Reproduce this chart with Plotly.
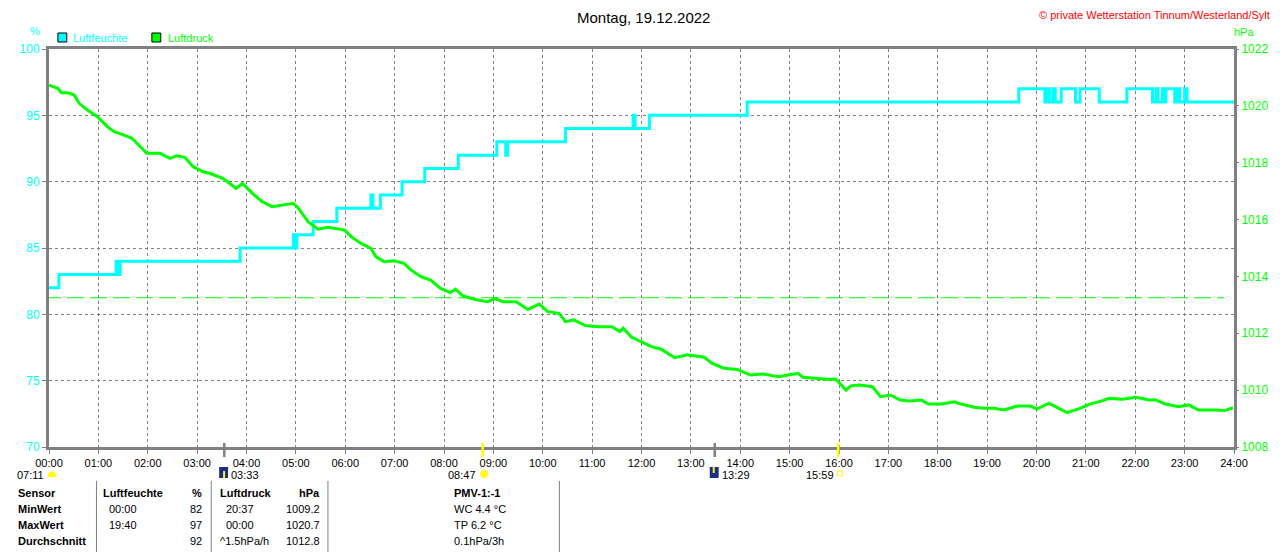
import plotly.graph_objects as go

# ---------------- data ----------------
hum_hours = [0.0, 0.2, 1.36, 1.38, 1.40, 1.42, 1.44, 3.87, 4.95, 4.98, 5.02, 5.35, 5.83,
             6.52, 6.56, 6.71, 7.15, 7.61, 8.29, 9.07, 9.25, 9.29, 10.46, 11.83, 11.87,
             12.16, 14.14, 19.64, 20.17, 20.22, 20.26, 20.33, 20.38, 20.50, 20.79, 20.88,
             21.27, 21.83, 22.35, 22.42, 22.46, 22.55, 22.58, 22.62, 22.80, 22.86, 22.90,
             23.00, 23.05, 24.0]
hum_values = [82, 83, 84, 83, 84, 83, 84, 85, 86, 85, 86, 87, 88,
              89, 88, 89, 90, 91, 92, 93, 92, 93, 94, 95, 94,
              95, 96, 97, 96, 97, 96, 97, 96, 97, 96, 97,
              96, 97, 96, 97, 96, 97, 96, 97, 96, 97, 96,
              97, 96, 96]

pres_hours = [0.0, 0.18, 0.25, 0.38, 0.51, 0.61, 0.78, 0.98, 1.18, 1.32, 1.52, 1.68, 1.85,
              1.98, 2.25, 2.45, 2.58, 2.75, 2.92, 3.12, 3.25, 3.52, 3.79, 3.92, 4.12, 4.32,
              4.52, 4.72, 4.95, 5.05, 5.25, 5.45, 5.65, 5.99, 6.12, 6.32, 6.52, 6.62, 6.79,
              6.99, 7.19, 7.33, 7.53, 7.73, 7.93, 8.13, 8.23, 8.39, 8.63, 8.89, 9.03, 9.19,
              9.46, 9.70, 9.93, 10.10, 10.33, 10.46, 10.63, 10.86, 11.13, 11.40, 11.56, 11.63,
              11.80, 12.00, 12.20, 12.40, 12.67, 12.93, 13.27, 13.43, 13.67, 13.94, 14.20,
              14.47, 14.77, 14.97, 15.17, 15.27, 15.61, 15.74, 15.94, 16.14, 16.24, 16.41,
              16.68, 16.84, 17.04, 17.24, 17.41, 17.67, 17.81, 18.07, 18.34, 18.47, 18.74,
              18.94, 19.14, 19.34, 19.61, 19.88, 20.01, 20.25, 20.48, 20.62, 20.88, 21.08,
              21.34, 21.47, 21.74, 22.01, 22.28, 22.41, 22.61, 22.88, 23.08, 23.28, 23.61,
              23.81, 23.98]
pres_values = [1020.73, 1020.62, 1020.46, 1020.46, 1020.38, 1020.09, 1019.85, 1019.62, 1019.27,
               1019.09, 1018.97, 1018.86, 1018.56, 1018.33, 1018.33, 1018.15, 1018.24, 1018.19,
               1017.86, 1017.68, 1017.63, 1017.45, 1017.10, 1017.27, 1016.92, 1016.63, 1016.45,
               1016.51, 1016.57, 1016.40, 1015.92, 1015.66, 1015.73, 1015.63, 1015.40, 1015.16,
               1014.99, 1014.69, 1014.52, 1014.55, 1014.46, 1014.23, 1013.99, 1013.87, 1013.58,
               1013.43, 1013.55, 1013.31, 1013.19, 1013.11, 1013.23, 1013.11, 1013.11, 1012.84,
               1013.03, 1012.76, 1012.70, 1012.41, 1012.47, 1012.27, 1012.23, 1012.23, 1012.06,
               1012.18, 1011.86, 1011.70, 1011.53, 1011.44, 1011.14, 1011.24, 1011.16, 1010.94,
               1010.77, 1010.73, 1010.53, 1010.57, 1010.47, 1010.53, 1010.59, 1010.45, 1010.39,
               1010.38, 1010.38, 1010.00, 1010.15, 1010.18, 1010.12, 1009.77, 1009.83, 1009.65,
               1009.62, 1009.65, 1009.51, 1009.51, 1009.59, 1009.51, 1009.40, 1009.36, 1009.36,
               1009.30, 1009.44, 1009.44, 1009.33, 1009.54, 1009.33, 1009.21, 1009.36, 1009.51,
               1009.63, 1009.71, 1009.68, 1009.75, 1009.65, 1009.66, 1009.51, 1009.42, 1009.48,
               1009.30, 1009.30, 1009.28, 1009.38]

std_pressure = 1013.25

x_tick_vals = list(range(0, 25))
x_tick_text = [f"{h:02d}:00" for h in range(0, 25)]

hum_ticks = [70, 75, 80, 85, 90, 95, 100]
pres_ticks = [1008, 1010, 1012, 1014, 1016, 1018, 1020, 1022]

# sun / moon events (hour, label)
moonrise = (3 + 33 / 60, "03:33")
sunrise = (8 + 47 / 60, "08:47")
moonset = (13 + 29 / 60, "13:29")
sunset = (15 + 59 / 60, "15:59")
dawn_label = "07:11"

table_rows = [
    ["Sensor", "Luftfeuchte", "%", "Luftdruck", "hPa", "PMV-1:-1"],
    ["MinWert", "00:00", "82", "20:37", "1009.2", "WC 4.4 °C"],
    ["MaxWert", "19:40", "97", "00:00", "1020.7", "TP 6.2 °C"],
    ["Durchschnitt", "", "92", "^1.5hPa/h", "1012.8", "0.1hPa/3h"],
]

# ---------------- layout helpers ----------------
# The page body has an 8px default margin, so the figure is shifted by 8px.
OFF = 8
W, H = 1280 - OFF, 552 - OFF
L, R, T, B = 41, 1239, 49, 447          # plot area in window pixels
GRAY = "#808080"
CYAN = "#00FFFF"
GREEN = "#00FF00"
FONT = "Liberation Sans, Arial, sans-serif"


def px(x):
    return (x - L) / (R - L)


def py(y):
    return (B - y) / (B - T)


fig = go.Figure()

fig.add_trace(go.Scatter(x=hum_hours, y=hum_values, mode="lines", line_shape="hv",
                         line=dict(color=CYAN, width=3), name="Luftfeuchte",
                         hoverinfo="skip"))
fig.add_trace(go.Scatter(x=pres_hours, y=pres_values, mode="lines", yaxis="y2",
                         line=dict(color=GREEN, width=3), name="Luftdruck",
                         hoverinfo="skip"))
fig.add_trace(go.Scatter(x=[-0.1, 23.8], y=[std_pressure, std_pressure], mode="lines",
                         yaxis="y2", line=dict(color=GREEN, width=1, dash="17px,6px"),
                         showlegend=False, hoverinfo="skip", cliponaxis=False))

shapes = []
annotations = []

# event tick markers under the x axis
for (hr, _), col in [(moonrise, GRAY), (sunrise, "#FFFF00"), (moonset, GRAY), (sunset, "#FFFF00")]:
    shapes.append(dict(type="line", xref="x", yref="paper", x0=hr, x1=hr,
                       y0=py(443), y1=py(457), line=dict(color=col, width=2.5)))


def text(x, y, s, color="black", size=11, xanchor="left", bold=False):
    annotations.append(dict(x=px(x), y=py(y), xref="paper", yref="paper", text=(f"<b>{s}</b>" if bold else s),
                            showarrow=False, xanchor=xanchor, yanchor="middle",
                            font=dict(family=FONT, size=size, color=color)))


def rect(x0, y0, x1, y1, fill, line_color=None, lw=1):
    shapes.append(dict(type="rect", xref="paper", yref="paper", x0=px(x0), x1=px(x1),
                       y0=py(y1), y1=py(y0), fillcolor=fill,
                       line=dict(color=line_color or fill, width=lw if line_color else 0)))


# title and copyright
text(642, 17, "Montag, 19.12.2022", size=15, xanchor="center")
text(1277, 15, "© private Wetterstation Tinnum/Westerland/Sylt", color="#FF0000", size=11, xanchor="right")

# axis unit labels
text(27, 31, "%", color=CYAN, size=11, xanchor="center")
text(1249, 32, "hPa", color=GREEN, size=11, xanchor="center")

# legend
rect(50, 33, 59, 42, CYAN, "black", 1)
text(63, 38, "Luftfeuchte", color=CYAN, size=11)
rect(145, 33, 154, 42, GREEN, "black", 1)
text(159, 38, "Luftdruck", color=GREEN, size=11)

# event labels and icons under x axis
EY = 475
text(38, EY, dawn_label, xanchor="right")
shapes.append(dict(type="path", xref="paper", yref="paper",
                   path=f"M {px(40)},{py(477)} L {px(40)},{py(474)} Q {px(44)},{py(468)} {px(48)},{py(474)} L {px(48)},{py(477)} Z",
                   fillcolor="#FFFF00", line=dict(color="#FFFF00", width=0)))

rect(213, 467, 222, 478, "#1C2A8C")
rect(217, 471, 219, 478, "#FFFF00")
text(223, EY, moonrise[1])

text(475, EY, sunrise[1], xanchor="right")
shapes.append(dict(type="circle", xref="paper", yref="paper", x0=px(477), x1=px(485),
                   y0=py(478), y1=py(470), fillcolor="#FFFF00", line=dict(color="#FFEE88", width=1)))

rect(709, 467, 718, 478, "#1C2A8C")
rect(712, 467, 714, 473, "#FFFF00")
text(719, EY, moonset[1])

text(837, EY, sunset[1], xanchor="right")
rect(838, 471, 843, 476, "rgba(0,0,0,0)", "#FFFF00", 1)

# table
for xv in [89, 205, 323, 557, 1278]:
    shapes.append(dict(type="line", xref="paper", yref="paper", x0=px(xv), x1=px(xv),
                       y0=py(481), y1=py(552), line=dict(color=GRAY, width=1)))

row_y = [493, 509, 525, 541]
for i, row in enumerate(table_rows):
    y = row_y[i]
    head = i == 0
    text(8, y, row[0], bold=True)
    if head:
        text(94, y, row[1], bold=True)
        text(198, y, row[2], bold=True, xanchor="right")
        text(212, y, row[3], bold=True)
        text(317, y, row[4], bold=True, xanchor="right")
        text(448, y, row[5], bold=True)
    else:
        text(100, y, row[1])
        text(198, y, row[2], xanchor="right")
        text(212 if row[3].startswith("^") else 218, y, row[3])
        text(317, y, row[4], xanchor="right")
        text(448, y, row[5])

fig.update_layout(
    width=W, height=H,
    margin=dict(l=L - OFF, r=1280 - R, t=T - OFF, b=552 - B, pad=0),
    paper_bgcolor="white", plot_bgcolor="white",
    showlegend=False,
    font=dict(family=FONT, size=11, color="black"),
    xaxis=dict(range=[0, 24], tickvals=x_tick_vals, ticktext=x_tick_text,
               showgrid=True, gridcolor=GRAY, griddash="3px,3px", gridwidth=1,
               showline=True, linecolor=GRAY, linewidth=3, mirror=True,
               ticks="outside", ticklen=4, tickcolor=GRAY, tickwidth=1,
               tickfont=dict(family=FONT, size=11, color="black"), zeroline=False),
    yaxis=dict(range=[70, 100], tickvals=hum_ticks,
               showgrid=True, gridcolor=GRAY, griddash="3px,3px", gridwidth=1,
               showline=True, linecolor=GRAY, linewidth=3, mirror=True,
               ticks="outside", ticklen=4, tickcolor=GRAY, tickwidth=1,
               tickfont=dict(family=FONT, size=12, color=CYAN), zeroline=False),
    yaxis2=dict(range=[1008, 1022], tickvals=pres_ticks, overlaying="y", side="right",
                showgrid=False, showline=False,
                ticks="outside", ticklen=4, tickcolor=GRAY, tickwidth=1,
                tickfont=dict(family=FONT, size=12, color=GREEN), zeroline=False),
    shapes=shapes,
    annotations=annotations,
)

fig.write_html("out.html")
